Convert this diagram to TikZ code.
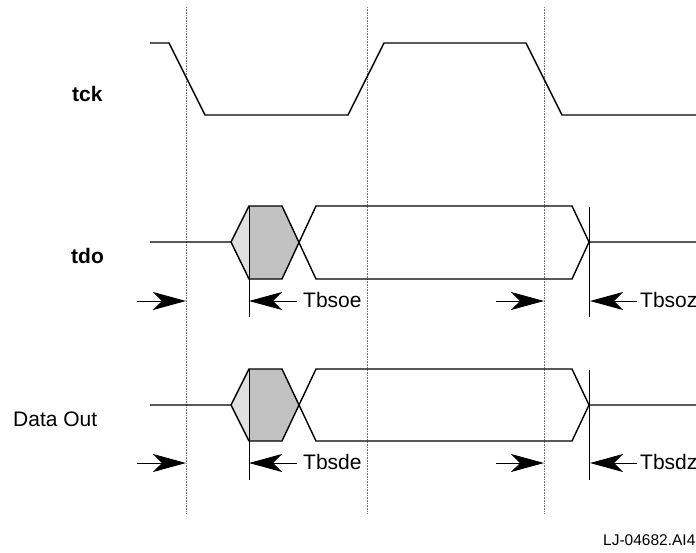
\documentclass[tikz,border=0pt]{standalone}
\usepackage{fontspec}
\setmainfont{Liberation Sans}
\usetikzlibrary{arrows.meta}
\begin{document}
\begin{tikzpicture}[x=1pt,y=-1pt,
  sig/.style={line width=1.4pt, line join=miter},
  guide/.style={black!55, line width=0.7pt, dash pattern=on 0.8pt off 0.8pt},
  tickline/.style={line width=0.8pt},
  dimarrow/.style={line width=1pt, -{Stealth[length=33pt,width=18pt,inset=9pt]}},
  lbl/.style={anchor=base west, inner sep=0pt, font=\fontsize{21}{24}\selectfont},
  blbl/.style={lbl, font=\fontsize{21}{24}\selectfont\bfseries},
  lightfill/.style={fill=black!12},
  darkfill/.style={fill=black!24},
]
\useasboundingbox (0,0) rectangle (696,552);

% guides
\foreach \gx/\gn in {186/ga,367/gb,544/gc}{
  \coordinate (\gn top) at (\gx,7);
  \coordinate (\gn bot) at (\gx,513);
  \draw[guide] (\gn top) -- (\gn bot);
}

% tck
\draw[sig] (150,43) -- (169,43) -- (205,115) -- (348,115) -- (384,43) -- (526,43) -- (562,115) -- (696,115);

% bus rows
\foreach \row/\cy/\tp/\bt in {o/242/206/279, d/405/369/441}{
  \fill[lightfill] (231,\cy) -- (249,\tp) -- (282,\tp) -- (299,\cy) -- (282,\bt) -- (249,\bt) -- cycle;
  \fill[darkfill] (249,\tp) -- (282,\tp) -- (299,\cy) -- (282,\bt) -- (249,\bt) -- cycle;
  \draw[sig] (150,\cy) -- (231,\cy) -- (249,\tp) -- (282,\tp) -- (316,\bt) -- (572,\bt) -- (589,\cy) -- (696,\cy);
  \draw[sig] (231,\cy) -- (249,\bt) -- (282,\bt) -- (316,\tp) -- (572,\tp) -- (589,\cy);
}

% tick lines
\coordinate (oL) at (249,206); \coordinate (oLb) at (249,317);
\coordinate (oR) at (589,207); \coordinate (oRb) at (589,317);
\coordinate (dL) at (249,369); \coordinate (dLb) at (249,480);
\coordinate (dR) at (589,370); \coordinate (dRb) at (589,480);
\draw[tickline] (oL) -- (oLb);
\draw[tickline] (oR) -- (oRb);
\draw[tickline] (dL) -- (dLb);
\draw[tickline] (dR) -- (dRb);

% dimension arrows
\foreach \ay/\r in {301/o, 463/d}{
  \coordinate (\r a1) at (137,\ay); \coordinate (\r a1e) at (186,\ay);
  \coordinate (\r a2) at (297,\ay); \coordinate (\r a2e) at (249,\ay);
  \coordinate (\r a3) at (496,\ay); \coordinate (\r a3e) at (544,\ay);
  \coordinate (\r a4) at (637,\ay); \coordinate (\r a4e) at (590,\ay);
  \draw[dimarrow] (\r a1) -- (\r a1e);
  \draw[dimarrow] (\r a2) -- (\r a2e);
  \draw[dimarrow] (\r a3) -- (\r a3e);
  \draw[dimarrow] (\r a4) -- (\r a4e);
}

% labels
\node[blbl] (tck) at (72,101) {tck};
\node[blbl] (tdo) at (71,263) {tdo};
\node[lbl] (dout) at (13,426) {Data Out};
\node[lbl] (tbsoe) at (303,307) {Tbsoe};
\node[lbl] (tbsoz) at (640,307) {Tbsoz};
\node[lbl] (tbsde) at (303,469) {Tbsde};
\node[lbl] (tbsdz) at (640,469) {Tbsdz};
\node[anchor=base west, inner sep=0pt, font=\fontsize{15.5}{18}\selectfont] (fig) at (603,545) {LJ-04682.AI4};
\end{tikzpicture}
\end{document}
